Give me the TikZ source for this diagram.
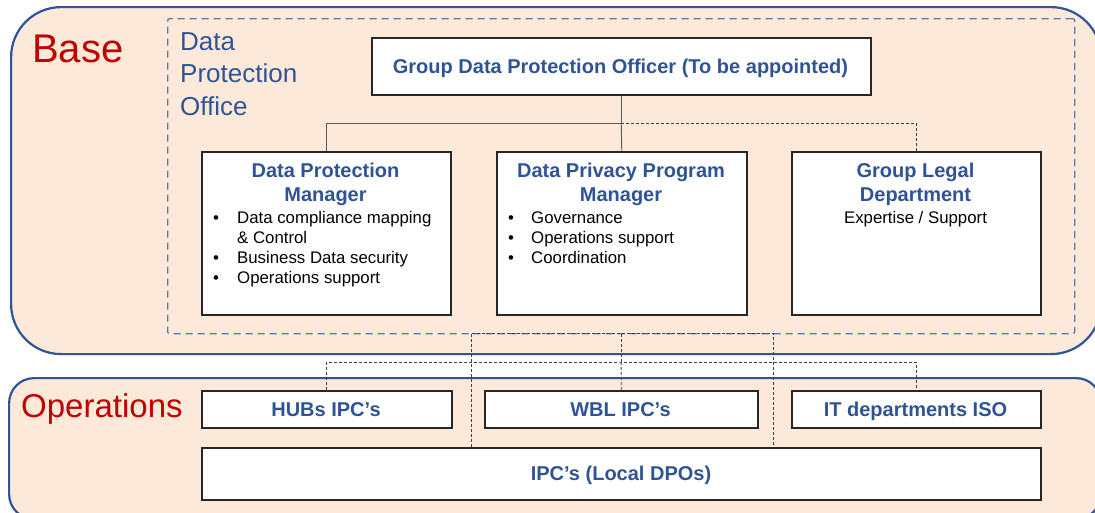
\documentclass[tikz,border=0pt]{standalone}
\usepackage{fontspec}
\setmainfont{Liberation Sans}
\usetikzlibrary{calc}
\definecolor{peach}{HTML}{FDE9D9}
\definecolor{frameblue}{HTML}{2F5597}
\definecolor{txtblue}{HTML}{2F5496}
\definecolor{dashblue}{HTML}{5878A8}
\definecolor{redtxt}{HTML}{C00000}
\definecolor{boxline}{HTML}{262626}
\definecolor{connline}{HTML}{595959}
\definecolor{dotcol}{HTML}{404040}
\begin{document}
\begin{tikzpicture}[x=1pt,y=-1pt,
  region/.style={draw=frameblue, line width=2.2pt, fill=peach, anchor=north west, inner sep=0pt},
  dpobox/.style={draw=dashblue, line width=1.3pt, dash pattern=on 7pt off 5pt, rounded corners=2pt, anchor=north west, inner sep=0pt},
  wbox/.style={draw=boxline, line width=1.5pt, fill=white, anchor=north west, inner sep=0pt},
  titletxt/.style={font=\fontsize{20}{24}\selectfont\bfseries, text=txtblue, anchor=base, inner sep=0pt},
  bodytxt/.style={font=\fontsize{16.8}{20}\selectfont, text=black, anchor=base west, inner sep=0pt},
  bodyctr/.style={font=\fontsize{16.8}{20}\selectfont, text=black, anchor=base, inner sep=0pt},
  bul/.style={font=\fontsize{16.8}{20}\selectfont, text=black, anchor=base, inner sep=0pt},
  bigred/.style={text=redtxt, anchor=base west, inner sep=0pt},
  dpotxt/.style={font=\fontsize{26}{32}\selectfont, text=txtblue, anchor=base west, inner sep=0pt},
  solidconn/.style={draw=connline, line width=0.9pt},
  dotconn/.style={draw=dotcol, line width=0.9pt, dash pattern=on 3pt off 2pt}
]
\useasboundingbox (0,0) rectangle (1095,512);
\clip (0,0) rectangle (1095,512);

% regions
\node[region, rounded corners=50pt, minimum width=1090pt, minimum height=347pt] (base) at (10,6) {};
\node[region, rounded corners=25pt, minimum width=1092pt, minimum height=141pt] (ops) at (8,377) {};

\node[bigred, font=\fontsize{40}{44}\selectfont] (basetxt) at (32,62) {Base};
\node[bigred, font=\fontsize{33}{38}\selectfont] (opstxt) at (21,417) {Operations};

% data protection office
\node[dpobox, minimum width=907pt, minimum height=315pt] (dpo) at (167,18) {};
\node[dpotxt] (dpoa) at (180,50) {Data};
\node[dpotxt] (dpob) at (180,82) {Protection};
\node[dpotxt] (dpoc) at (180,115) {Office};

% boxes
\node[wbox, minimum width=499pt, minimum height=57pt] (gdpo) at (371,37) {};
\node[wbox, minimum width=249pt, minimum height=163pt] (dpm) at (201,151) {};
\node[wbox, minimum width=250pt, minimum height=163pt] (dppm) at (496,151) {};
\node[wbox, minimum width=249pt, minimum height=163pt] (gld) at (791,151) {};

\node[wbox, minimum width=250pt, minimum height=37pt] (hubs) at (201,390) {};
\node[wbox, minimum width=273pt, minimum height=37pt] (wbl) at (484,390) {};
\node[wbox, minimum width=249pt, minimum height=37pt] (itd) at (791,390) {};
\node[wbox, minimum width=839pt, minimum height=52pt] (ipc) at (201,447) {};

% texts
\node[titletxt] (gdpot) at (620.5,73) {Group Data Protection Officer (To be appointed)};

\node[titletxt] (dpmt1) at (325.5,177) {Data Protection};
\node[titletxt] (dpmt2) at (325.5,201) {Manager};
\node[bul] (dpmb1) at (216,223) {•};
\node[bodytxt] (dpml1) at (237,223) {Data compliance mapping};
\node[bodytxt] (dpml2) at (237,243) {\& Control};
\node[bul] (dpmb2) at (216,263) {•};
\node[bodytxt] (dpml3) at (237,263) {Business Data security};
\node[bul] (dpmb3) at (216,283) {•};
\node[bodytxt] (dpml4) at (237,283) {Operations support};

\node[titletxt] (dppmt1) at (621,177) {Data Privacy Program};
\node[titletxt] (dppmt2) at (621,201) {Manager};
\node[bul] (dppmb1) at (511,223) {•};
\node[bodytxt] (dppml1) at (531,223) {Governance};
\node[bul] (dppmb2) at (511,243) {•};
\node[bodytxt] (dppml2) at (531,243) {Operations support};
\node[bul] (dppmb3) at (511,263) {•};
\node[bodytxt] (dppml3) at (531,263) {Coordination};

\node[titletxt] (gldt1) at (915.5,177) {Group Legal};
\node[titletxt] (gldt2) at (915.5,201) {Department};
\node[bodyctr] (gldl1) at (915.5,223) {Expertise / Support};

\node[titletxt] (hubst) at (326,416) {HUBs IPC’s};
\node[titletxt] (wblt) at (620.5,416) {WBL IPC’s};
\node[titletxt] (itdt) at (915.5,416) {IT departments ISO};
\node[titletxt] (ipct) at (621,480) {IPC’s (Local DPOs)};

% connectors
\coordinate (j1) at (gdpo.south |- 0,123);
\draw[solidconn] (gdpo.south) -- (j1);
\draw[solidconn] (j1) -| (dpm.north);
\draw[solidconn] (j1) -- (dppm.north);
\draw[dotconn] (j1) -| (gld.north);

\coordinate (a1) at (471,333);
\coordinate (a2) at (773,333);
\draw[dotconn] (ipc.north -| a1) -- (a1) -- (a2) -- (ipc.north -| a2);

\coordinate (j3) at (dpo.south |- 0,362);
\draw[dotconn] (dpo.south) -- (j3);
\draw[dotconn] (hubs.north) |- (j3) -| (itd.north);
\draw[dotconn] (j3) -- (wbl.north);
\end{tikzpicture}
\end{document}
